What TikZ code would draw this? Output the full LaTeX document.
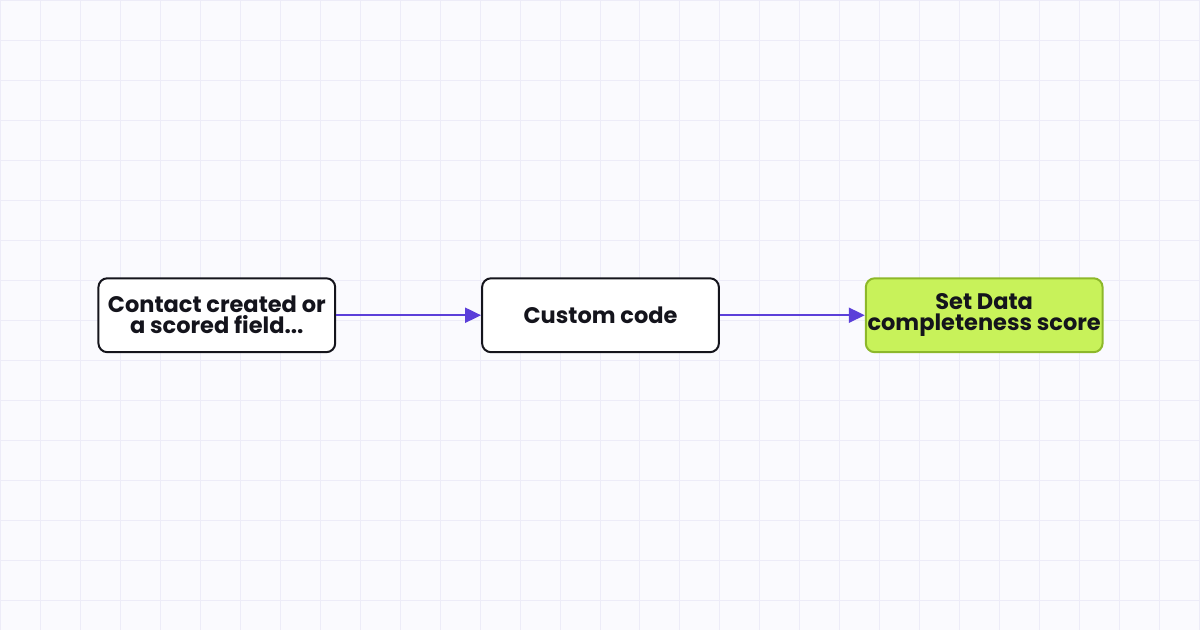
\documentclass[tikz,border=0pt]{standalone}
\usepackage{fontspec}
\setmainfont{Poppins}[BoldFont={* Bold}]
\usetikzlibrary{positioning,arrows.meta}
\definecolor{canvas}{HTML}{FAFAFE}
\definecolor{gridc}{HTML}{EDECF8}
\definecolor{inkc}{HTML}{14141C}
\definecolor{linkc}{HTML}{5B3FD9}
\definecolor{limec}{HTML}{C8F25A}
\definecolor{limeborder}{HTML}{8DB82A}
\begin{document}
\begin{tikzpicture}[x=1bp, y=-1bp,
                    node distance=145bp,
                    line width=2bp]
    \tikzstyle{stepbox}=[draw=inkc, fill=white, rounded corners=9bp, minimum width=237bp, minimum height=74bp,
                         inner sep=0pt, align=center, text=inkc,
                         font=\fontsize{22.5bp}{21bp}\selectfont\bfseries]
    \tikzstyle{goalbox}=[stepbox, draw=limeborder, fill=limec]
    \tikzstyle{link}=[draw=linkc, line width=2bp, -{Triangle[length=16bp,width=15bp]}]

    \fill[canvas] (0,0) rectangle (1200,630);
    \foreach \gx in {0,40,...,1200}
        \draw[gridc, line width=1bp] (\gx,0) -- (\gx,630);
    \foreach \gy in {0,40,...,600}
        \draw[gridc, line width=1bp] (0,\gy) -- (1200,\gy);
    \useasboundingbox (0,0) rectangle (1200,630);

    \node[stepbox] (trigger) at (216.5,315) {Contact created or\\a scored field...};
    \node[stepbox, right=of trigger] (code) {Custom code};
    \node[goalbox, right=of code] (score) {Set Data\\completeness score};

    \draw[link] (trigger) -- (code);
    \draw[link] (code) -- (score);
\end{tikzpicture}
\end{document}
